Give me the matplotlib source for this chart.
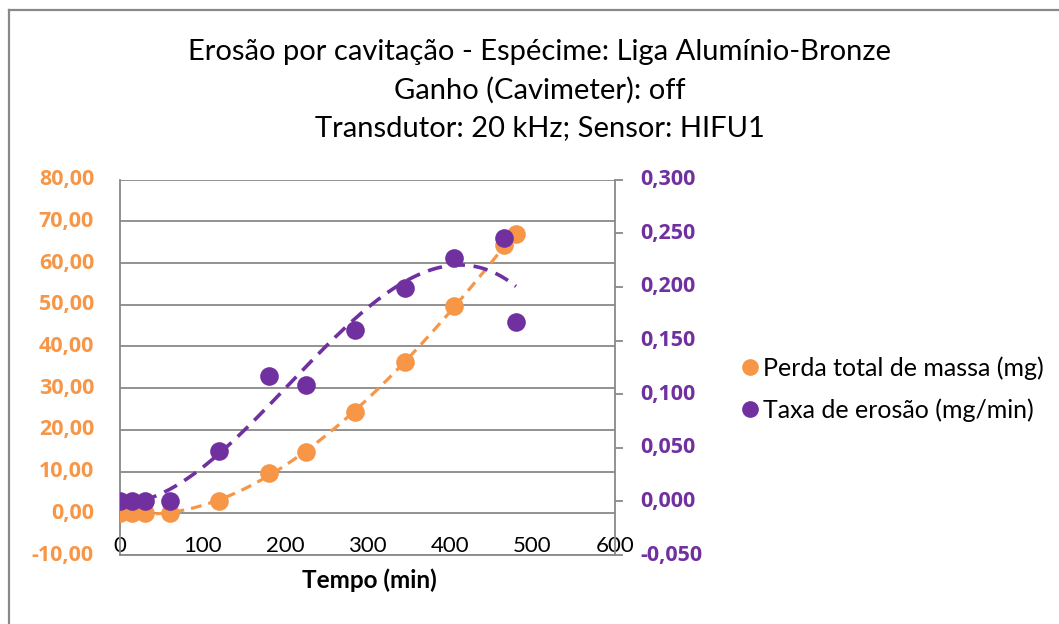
import numpy as np
import matplotlib
matplotlib.use("Agg")
import matplotlib.pyplot as plt
from matplotlib.lines import Line2D
from matplotlib.ticker import MultipleLocator, NullFormatter
from matplotlib.transforms import blended_transform_factory

plt.rcParams['font.family'] = ['Lato', 'DejaVu Sans']

# dados
tempo = [0, 15, 30, 60, 120, 180, 225, 285, 345, 405, 465, 480]
perda_massa = [0.0, 0.0, 0.0, 0.1, 2.9, 9.7, 14.7, 24.3, 36.2, 49.7, 64.4, 67.0]
taxa_erosao = [0.0, 0.0, 0.0, 0.0, 0.047, 0.117, 0.109, 0.160, 0.199, 0.227, 0.246, 0.167]

ticks_esq = [-10, 0, 10, 20, 30, 40, 50, 60, 70, 80]
ticks_dir = [-0.05, 0.0, 0.05, 0.10, 0.15, 0.20, 0.25, 0.30]

titulo = ["Erosão por cavitação - Espécime: Liga Alumínio-Bronze",
          "Ganho (Cavimeter): off",
          "Transdutor: 20 kHz; Sensor: HIFU1"]
legenda = ["Perda total de massa (mg)", "Taxa de erosão (mg/min)"]

laranja = '#F79646'
roxo = '#7030A0'
cinza = '#898989'

W, H = 1059, 624
fig = plt.figure(figsize=(W / 100, H / 100), dpi=100)
ax = fig.add_axes([120 / W, 1 - 555 / H, 495 / W, 375.3 / H])
ax2 = ax.twinx()

t = np.array(tempo, dtype=float)
tt = np.linspace(t.min(), t.max(), 200)

# perda total de massa (eixo esquerdo)
ax.scatter(tempo, perda_massa, s=180, color=laranja, zorder=3, linewidths=0)
p1 = np.polyfit(t, perda_massa, 3)
ax.plot(tt, np.polyval(p1, tt), color=laranja, lw=2.3, dashes=(3.4, 2.2), zorder=4)

# taxa de erosao (eixo direito)
ax2.scatter(tempo, taxa_erosao, s=180, color=roxo, zorder=3, linewidths=0)
p2 = np.polyfit(t, taxa_erosao, 3)
ax2.plot(tt, np.polyval(p2, tt), color=roxo, lw=2.6, dashes=(4, 2.4), zorder=4)

ax.set_xlim(0, 600)
ax.set_ylim(-10, 80)
ax2.set_ylim(-0.05, 0.3)
ax.xaxis.set_major_locator(MultipleLocator(100))

ax.grid(axis='y', color=cinza, lw=1.3)
ax.set_axisbelow(True)

for a in (ax, ax2):
    for s in a.spines.values():
        s.set_visible(False)
ax.spines['left'].set_visible(True)
ax.spines['bottom'].set_visible(True)
ax2.spines['right'].set_visible(True)
for s in (ax.spines['left'], ax.spines['bottom'], ax2.spines['right']):
    s.set_color(cinza)
    s.set_linewidth(1.3)

ax.set_yticks(ticks_esq)
ax2.set_yticks(ticks_dir)
ax.yaxis.set_major_formatter(NullFormatter())
ax2.yaxis.set_major_formatter(NullFormatter())
ax.tick_params(axis='y', length=0)
ax2.tick_params(axis='y', length=6, width=1.3, color=cinza)
ax.tick_params(axis='x', length=0, pad=-13.5, labelsize=16, labelcolor='black')

# rotulos dos eixos verticais (negrito, coloridos)
fonte_num = dict(family=['Open Sans', 'DejaVu Sans'], fontsize=15.5, fontweight='bold', clip_on=False)
tr_esq = blended_transform_factory(ax.transAxes, ax.transData)
for v in ticks_esq:
    ax.text(-26 / 495, v, f"{v:.2f}".replace('.', ','), transform=tr_esq, ha='right', va='center',
            color=laranja, **fonte_num)
tr_dir = blended_transform_factory(ax2.transAxes, ax2.transData)
for v in ticks_dir:
    ax2.text(1 + 25 / 495, v, f"{v:.3f}".replace('.', ','), transform=tr_dir, ha='left', va='center',
             color=roxo, **fonte_num)

fig.text(369 / W, 1 - 580 / H, "Tempo (min)", ha='center', va='center',
         fontsize=17.5, fontweight='bold')

for i, linha in enumerate(titulo):
    fig.text(540 / W, 1 - (52 + 38 * i) / H, linha, ha='center', va='center', fontsize=21)

handles = [Line2D([], [], ls='none', marker='o', ms=11, color=c, mec=c) for c in (laranja, roxo)]
fig.legend(handles, legenda, loc='center left', bbox_to_anchor=(737 / W, 1 - 389 / H),
           frameon=False, fontsize=18, handletextpad=0.05, labelspacing=0.72,
           handlelength=1.0, borderaxespad=0, borderpad=0)

# moldura do grafico
fig.add_artist(Line2D([8.5 / W, 8.5 / W], [0, 1 - 10 / H], color=cinza, lw=1.6))
fig.add_artist(Line2D([8.5 / W, 1], [1 - 10 / H, 1 - 10 / H], color=cinza, lw=1.6))

fig.savefig("out.png", dpi=100)
